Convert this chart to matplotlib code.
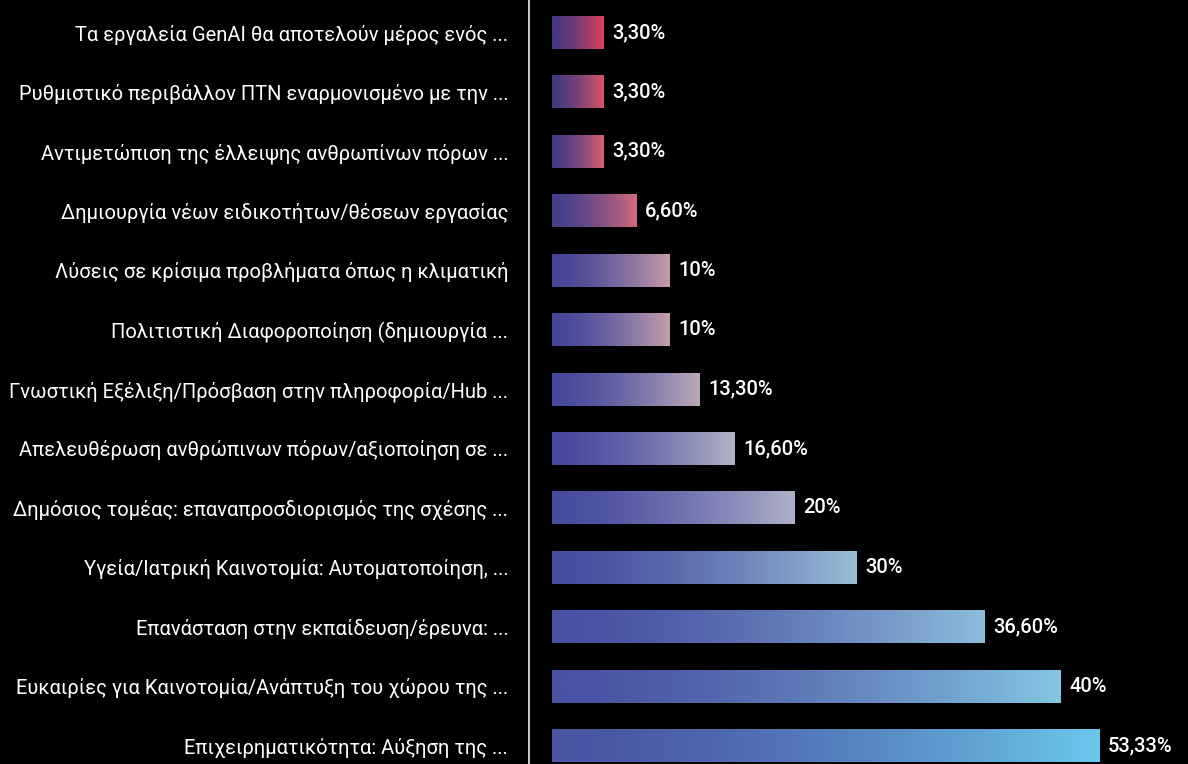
import matplotlib
matplotlib.use("Agg")
import matplotlib.pyplot as plt
import numpy as np
from matplotlib.colors import LinearSegmentedColormap, to_rgb

plt.rcParams['font.family'] = ['Roboto', 'DejaVu Sans']

# categories, top to bottom
categories = [
    "Τα εργαλεία GenAI θα αποτελούν μέρος ενός ...",
    "Ρυθμιστικό περιβάλλον ΠΤΝ εναρμονισμένο με την ...",
    "Αντιμετώπιση της έλλειψης ανθρωπίνων πόρων ...",
    "Δημιουργία νέων ειδικοτήτων/θέσεων εργασίας",
    "Λύσεις σε κρίσιμα προβλήματα όπως η κλιματική",
    "Πολιτιστική Διαφοροποίηση (δημιουργία ...",
    "Γνωστική Εξέλιξη/Πρόσβαση στην πληροφορία/Hub ...",
    "Απελευθέρωση ανθρώπινων πόρων/αξιοποίηση σε ...",
    "Δημόσιος τομέας: επαναπροσδιορισμός της σχέσης ...",
    "Υγεία/Ιατρική Καινοτομία: Αυτοματοποίηση, ...",
    "Επανάσταση στην εκπαίδευση/έρευνα: ...",
    "Ευκαιρίες για Καινοτομία/Ανάπτυξη του χώρου της ...",
    "Επιχειρηματικότητα: Αύξηση της ...",
]
# bar lengths as drawn in the reference
bar_lengths = [5.2, 5.2, 5.2, 8.5, 11.8, 11.8, 14.8, 18.3, 24.3, 30.5, 43.3, 50.9, 54.8]
value_labels = ["3,30%", "3,30%", "3,30%", "6,60%", "10%", "10%", "13,30%",
                "16,60%", "20%", "30%", "36,60%", "40%", "53,33%"]

# gradient start / end colours per row
start_colors = ["#45387f", "#45397f", "#453b84", "#443e8c", "#444497", "#44469a", "#45489c",
                "#46499e", "#474c9f", "#484ea0", "#4950a2", "#4a52a3", "#4a55a4"]
end_colors = ["#e1415e", "#dc5468", "#d8616f", "#d4697a", "#c79ca9", "#c49fad", "#bca9b8",
              "#b2b3c6", "#aeb0c8", "#98bed6", "#8cbddb", "#84c6e2", "#6ac8ec"]

fig = plt.figure(figsize=(11.88, 7.64), dpi=100, facecolor="black")
ax = fig.add_axes([529 / 1188, 0, 1 - 529 / 1188, 1])
ax.set_facecolor("black")

n = len(categories)
bar_h = 0.555

grad = np.linspace(0, 1, 256) ** 1.5
for i, (w, c0, c1) in enumerate(zip(bar_lengths, start_colors, end_colors)):
    cmap = LinearSegmentedColormap.from_list(f"g{i}", [to_rgb(c0), to_rgb(c1)])
    ax.imshow(grad[np.newaxis, :], cmap=cmap, aspect="auto", interpolation="bilinear",
              extent=(0, w, i + bar_h / 2, i - bar_h / 2), zorder=2)
    ax.text(w + 0.8, i, value_labels[i], color="white", fontsize=14.5,
            va="center", ha="left", fontweight="medium")

ax.set_xlim(-2.3, 63.6)
ax.set_ylim(12.31, -0.547)
ax.set_yticks(range(n))
ax.set_yticklabels(categories, color="white", fontsize=14.5)
ax.tick_params(axis="y", length=0, pad=15)
ax.set_xticks([])
for s in ["top", "right", "bottom"]:
    ax.spines[s].set_visible(False)
ax.spines["left"].set_color("#dddddd")
ax.spines["left"].set_linewidth(1.3)

fig.savefig("out.png", dpi=100, facecolor="black")
